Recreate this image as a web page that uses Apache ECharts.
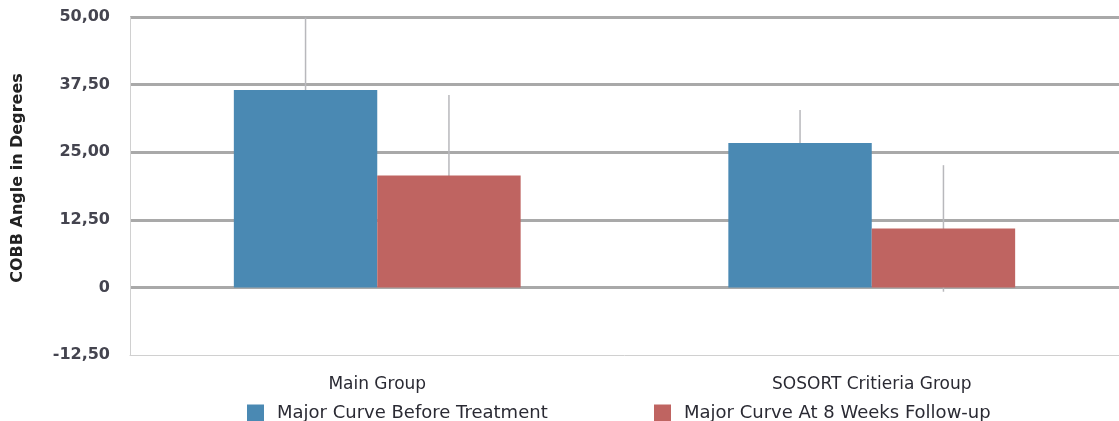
<!DOCTYPE html>
<html>
<head>
<meta charset="utf-8">
<script src="https://cdn.jsdelivr.net/npm/echarts@6/dist/echarts.min.js"></script>
<style>
  html, body { margin: 0; padding: 0; background: #fff; }
  #echarts { width: 1119px; height: 421px; }
</style>
</head>
<body>
<div id="echarts"></div>
<script>
var categories = ['Main Group', 'SOSORT Critieria Group'];
var beforeValues = [36.5, 26.7];
var afterValues = [20.7, 10.9];
var beforeErr = [13.4, 6.1];
var afterErr = [14.9, 11.7];
var yTicks = [-12.5, 0, 12.5, 25, 37.5, 50];

var seriesNames = ['Major Curve Before Treatment', 'Major Curve At 8 Weeks Follow-up'];
var colors = ['#4a89b3', '#bf6461'];
var gapRatio = 0.42;

var myChart = echarts.init(document.getElementById('echarts'));

function fmt(v) {
    if (v === 0) return '0';
    return v.toFixed(2).replace('.', ',');
}

// error bars, drawn behind the bars
function errorSeries(means, errs, side) {
    var data = [];
    for (var i = 0; i < means.length; i++) {
        data.push([i, means[i] - errs[i], means[i] + errs[i]]);
    }
    return {
        type: 'custom',
        z: 1,
        silent: true,
        data: data,
        renderItem: function (params, api) {
            var low = api.coord([api.value(0), api.value(1)]);
            var high = api.coord([api.value(0), api.value(2)]);
            var band = api.size([1, 0])[0];
            var barW = band * (1 - gapRatio) / 2;
            var x = low[0] + side * barW / 2;
            return {
                type: 'line',
                shape: { x1: x, y1: high[1], x2: x, y2: low[1] },
                style: { stroke: '#b8b8bc', lineWidth: 1.5 }
            };
        }
    };
}

var legendText = { fontSize: 18, color: '#2a2a33', padding: [0, 0, 0, 8] };

var option = {
    animation: false,
    textStyle: { fontFamily: 'DejaVu Sans' },
    legend: [{
        data: [seriesNames[0]],
        left: 242,
        top: 399,
        icon: 'rect',
        itemWidth: 17,
        itemHeight: 17,
        textStyle: legendText
    }, {
        data: [seriesNames[1]],
        left: 649,
        top: 399,
        icon: 'rect',
        itemWidth: 17,
        itemHeight: 17,
        textStyle: legendText
    }],
    grid: {
        left: 130,
        right: -2,
        top: 17,
        bottom: 66
    },
    xAxis: {
        type: 'category',
        data: categories,
        axisLine: { onZero: false, lineStyle: { color: '#d0d0d0', width: 1 } },
        axisTick: { show: false },
        axisLabel: { fontSize: 17, color: '#2a2a33', margin: 21 },
        splitLine: { show: false }
    },
    yAxis: {
        type: 'value',
        min: yTicks[0],
        max: yTicks[yTicks.length - 1],
        interval: 12.5,
        name: 'COBB Angle in Degrees',
        nameLocation: 'middle',
        nameGap: 104,
        nameTextStyle: { fontSize: 16, fontWeight: 'bold', color: '#222', padding: [0, 0, 0, 16] },
        axisLine: { show: true, lineStyle: { color: '#d0d0d0', width: 1 } },
        axisTick: { show: false },
        axisLabel: {
            fontSize: 16,
            fontWeight: 'bold',
            color: '#44444f',
            margin: 20,
            formatter: fmt
        },
        splitLine: {
            lineStyle: {
                color: ['rgba(0,0,0,0)', '#a9a9a9', '#a9a9a9', '#a9a9a9', '#a9a9a9', '#a9a9a9'],
                width: 3
            }
        }
    },
    series: [{
        name: seriesNames[0],
        type: 'bar',
        data: beforeValues,
        barGap: '0%',
        barCategoryGap: (gapRatio * 100) + '%',
        itemStyle: { color: colors[0] },
        z: 2
    }, {
        name: seriesNames[1],
        type: 'bar',
        data: afterValues,
        itemStyle: { color: colors[1] },
        z: 2
    },
    errorSeries(beforeValues, beforeErr, -1),
    errorSeries(afterValues, afterErr, 1)]
};
myChart.setOption(option);
</script>
</body>
</html>
